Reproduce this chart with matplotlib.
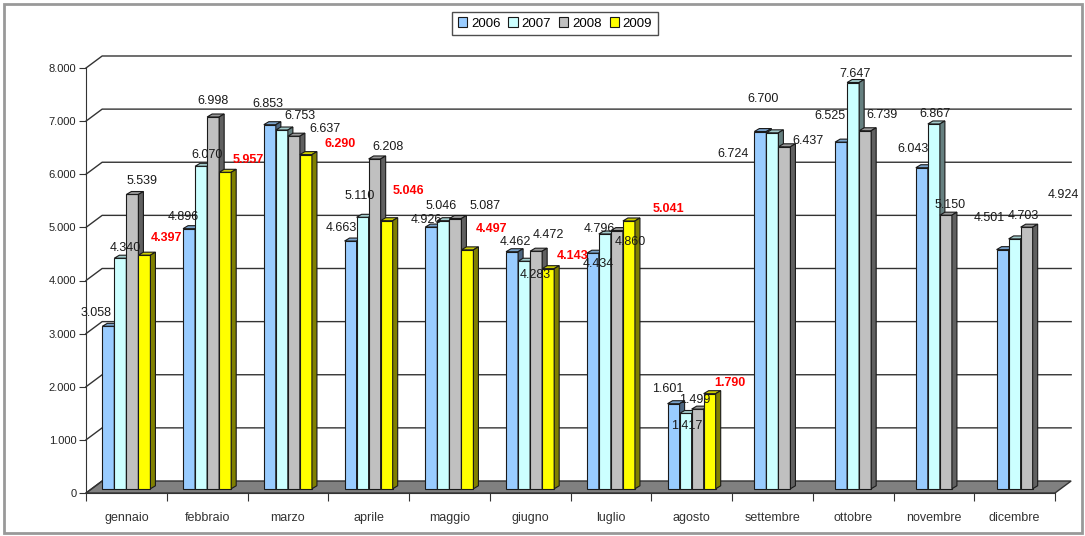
import numpy as np
import matplotlib.pyplot as plt
from matplotlib.patches import Polygon, Rectangle

plt.rcParams['font.family'] = ['Liberation Sans', 'DejaVu Sans']

mesi = ['gennaio', 'febbraio', 'marzo', 'aprile', 'maggio', 'giugno',
        'luglio', 'agosto', 'settembre', 'ottobre', 'novembre', 'dicembre']
anni = ['2006', '2007', '2008', '2009']

v2006 = [3058, 4896, 6853, 4663, 4926, 4462, 4434, 1601, 6724, 6525, 6043, 4501]
v2007 = [4340, 6070, 6753, 5110, 5046, 4283, 4796, 1417, 6700, 7647, 6867, 4703]
v2008 = [5539, 6998, 6637, 6208, 5087, 4472, 4860, 1499, 6437, 6739, 5150, 4924]
v2009 = [4397, 5957, 6290, 5046, 4497, 4143, 5041, 1790]

serie = [v2006, v2007, v2008, v2009]

# label nudges in pixels (dx right, dy down) from the top of each bar
nudge = [
    [(-12, -13), (-6, -12), (-2, -21), (-9, -13), (-5, -7), (3, -10),
     (5, 11), (-6, -15), (-27, 22), (-11, -26), (-9, -19), (-13, -32)],
    [(5, -10), (6, -11), (18, -14), (-3, -21), (-2, -15), (11, 14),
     (-5, -5), (1, 13), (-9, -34), (2, -9), (1, -10), (9, -23)],
    [(10, -13), (0, -16), (31, -7), (13, -12), (30, -13), (12, -16),
     (13, 11), (-3, -9), (24, -6), (17, -16), (4, -10), (37, -32)],
    [(22, -17), (23, -12), (34, -11), (22, -30), (24, -21), (24, -13),
     (40, -12), (20, -11)],
]

# front / top / side colours for each year
front = ['#99CCFF', '#CCFFFF', '#C0C0C0', '#FFFF00']
top = ['#7AA3CC', '#A3CCCC', '#9A9A9A', '#CCCC00']
side = ['#4D6680', '#668080', '#606060', '#808000']
lbl_col = ['#1a1a1a', '#1a1a1a', '#1a1a1a', '#FF0000']

# depth of the 3d box (data units)
DX, DY = 0.2, 226
bw = 0.149            # bar width
bdx, bdy = 0.062, 56  # bar depth
base = 80             # bar sits a bit inside the floor

fig = plt.figure(figsize=(10.85, 5.36), dpi=100)
ax = fig.add_axes([86 / 1085, 43 / 536, 969 / 1085, 425 / 536])
ax.set_xlim(0, 12)
ax.set_ylim(0, 8000)

# floor
floor = Polygon([(0, 0), (12, 0), (12 + DX, DY), (DX, DY)], closed=True,
                facecolor='#808080', edgecolor='#333333', lw=1, zorder=1,
                clip_on=False)
ax.add_patch(floor)

# side wall diagonals and back wall gridlines
for g in range(1000, 8001, 1000):
    ax.plot([0, DX, 12 + DX], [g, g + DY, g + DY], color='#333333', lw=1,
            zorder=0.5, clip_on=False)
ax.plot([0, DX], [0, DY], color='#333333', lw=1, zorder=1.5, clip_on=False)


def bar3d(x0, h, i, z):
    y0 = base
    y1 = base + h
    ax.add_patch(Rectangle((x0, y0), bw, h, facecolor=front[i],
                           edgecolor='#1a1a1a', lw=0.8, zorder=z,
                           clip_on=False))
    ax.add_patch(Polygon([(x0, y1), (x0 + bw, y1), (x0 + bw + bdx, y1 + bdy),
                          (x0 + bdx, y1 + bdy)], closed=True,
                         facecolor=top[i], edgecolor='#1a1a1a', lw=0.8,
                         zorder=z, clip_on=False))
    ax.add_patch(Polygon([(x0 + bw, y0), (x0 + bw + bdx, y0 + bdy),
                          (x0 + bw + bdx, y1 + bdy), (x0 + bw, y1)],
                         closed=True, facecolor=side[i], edgecolor='#1a1a1a',
                         lw=0.8, zorder=z, clip_on=False))


z = 2
for m in range(len(mesi)):
    vals = [(i, s[m]) for i, s in enumerate(serie) if m < len(s)]
    n = len(vals)
    xc = m + 0.5
    for k, (i, v) in enumerate(vals):
        x0 = xc + (k - n / 2) * bw
        bar3d(x0, v, i, z)
        z += 0.01
        dx, dy = nudge[i][m]
        ax.annotate('{:.3f}'.format(v / 1000), xy=(x0 + bw / 2, base + v),
                    xytext=(dx, -dy), textcoords='offset pixels',
                    ha='center', va='center', fontsize=9,
                    color=lbl_col[i],
                    fontweight='bold' if i == 3 else 'normal', zorder=10)

# axes
for s in ['top', 'right']:
    ax.spines[s].set_visible(False)
ax.spines['left'].set_color('#333333')
ax.spines['bottom'].set_color('#333333')
ax.set_yticks(range(0, 8001, 1000))
ax.set_yticklabels(['0'] + ['{:.3f}'.format(g / 1000) for g in range(1000, 8001, 1000)])
ax.tick_params(axis='y', length=5, colors='#333333', labelsize=8, pad=2,
               labelcolor='#222222')
ax.set_xticks(range(0, 13))
ax.set_xticklabels([])
ax.set_xticks(np.arange(0.5, 12), minor=True)
ax.set_xticklabels(mesi, minor=True)
ax.tick_params(axis='x', which='major', length=6, colors='#333333')
ax.tick_params(axis='x', which='minor', length=0, labelsize=9, pad=14,
               labelcolor='#333333')
ax.patch.set_alpha(0)

# legend
handles = [Rectangle((0, 0), 1, 1, facecolor=front[i], edgecolor='#1a1a1a',
                     lw=0.8) for i in range(4)]
fig.legend(handles, anni, loc='upper center', ncol=4,
           bbox_to_anchor=(555 / 1085, 1 - 12 / 536), fontsize=9.5,
           frameon=True, fancybox=False, edgecolor='#222222',
           handlelength=0.7, handleheight=0.7, handletextpad=0.3,
           columnspacing=0.6, borderpad=0.4, borderaxespad=0)

# outer frame
fig.patches.append(Rectangle((4 / 1085, 3 / 536), 1078 / 1085, 529 / 536,
                             transform=fig.transFigure, fill=False,
                             edgecolor='#999999', lw=2))

fig.savefig('out.png', dpi=100)
